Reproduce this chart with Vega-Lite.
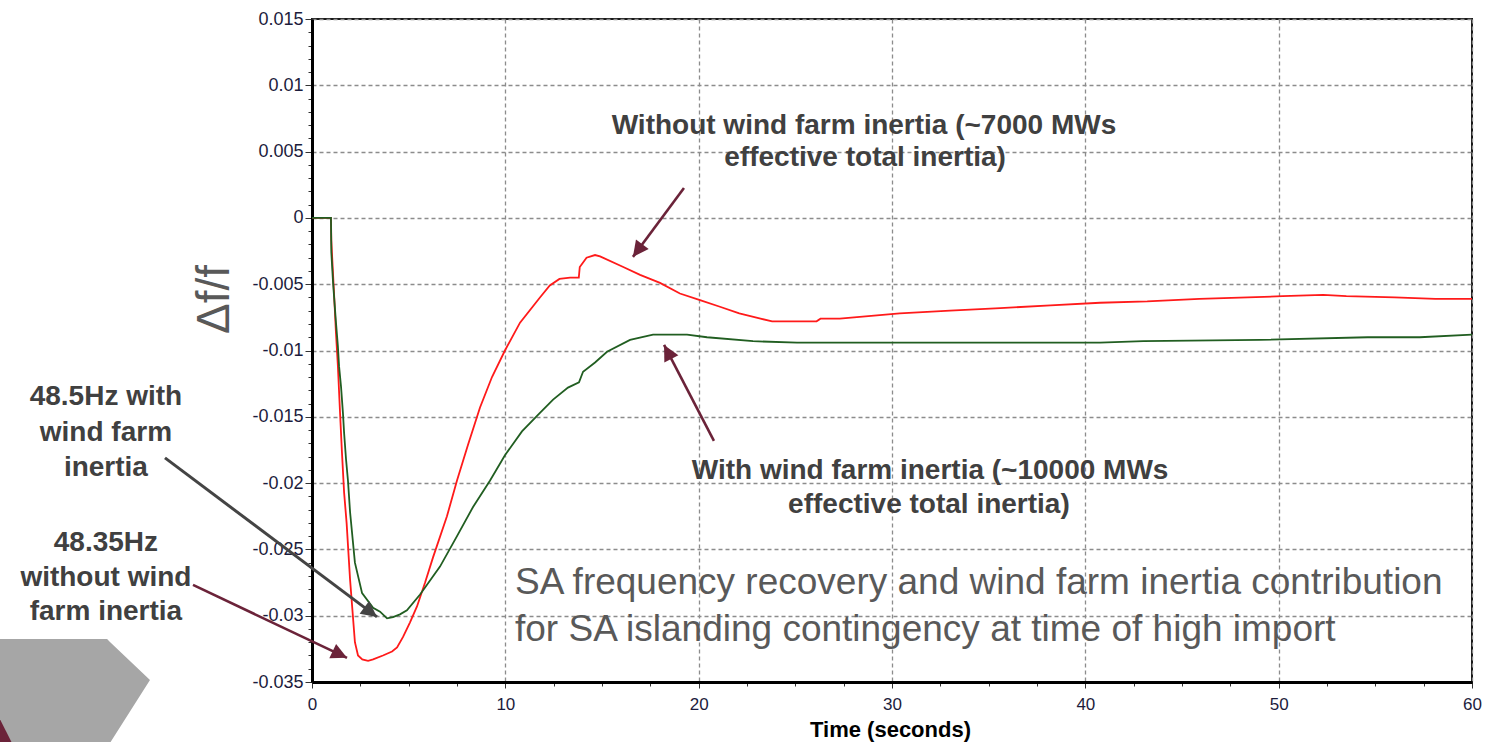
{
  "$schema": "https://vega.github.io/schema/vega-lite/v6.json",
  "width": 1160,
  "height": 663,
  "autosize": {"type": "none"},
  "padding": {"left": 312, "top": 19, "right": 14, "bottom": 60},
  "background": "white",
  "config": {
    "font": "Liberation Sans",
    "view": {"stroke": "#1a1a1a", "strokeWidth": 2}
  },
  "datasets": {
    "series": [
      {"s": "Without", "t": 0, "v": 0}, {"s": "Without", "t": 0.98, "v": 0}, {"s": "Without", "t": 1.0, "v": -0.0017}, {"s": "Without", "t": 1.03, "v": -0.0026}, {"s": "Without", "t": 1.08, "v": -0.004}, {"s": "Without", "t": 1.14, "v": -0.0057}, {"s": "Without", "t": 1.24, "v": -0.0087}, {"s": "Without", "t": 1.34, "v": -0.0112}, {"s": "Without", "t": 1.45, "v": -0.0147}, {"s": "Without", "t": 1.55, "v": -0.0177}, {"s": "Without", "t": 1.66, "v": -0.0207}, {"s": "Without", "t": 1.79, "v": -0.023}, {"s": "Without", "t": 1.97, "v": -0.0273}, {"s": "Without", "t": 2.22, "v": -0.032}, {"s": "Without", "t": 2.38, "v": -0.033}, {"s": "Without", "t": 2.6, "v": -0.0333}, {"s": "Without", "t": 2.9, "v": -0.0334}, {"s": "Without", "t": 3.16, "v": -0.0333}, {"s": "Without", "t": 3.67, "v": -0.033}, {"s": "Without", "t": 4.14, "v": -0.0327}, {"s": "Without", "t": 4.4, "v": -0.0324}, {"s": "Without", "t": 4.71, "v": -0.0316}, {"s": "Without", "t": 5.07, "v": -0.0305}, {"s": "Without", "t": 5.43, "v": -0.0293}, {"s": "Without", "t": 5.85, "v": -0.0275}, {"s": "Without", "t": 6.26, "v": -0.0256}, {"s": "Without", "t": 6.98, "v": -0.0225}, {"s": "Without", "t": 7.5, "v": -0.0198}, {"s": "Without", "t": 8.07, "v": -0.0171}, {"s": "Without", "t": 8.69, "v": -0.0143}, {"s": "Without", "t": 9.31, "v": -0.012}, {"s": "Without", "t": 9.98, "v": -0.01}, {"s": "Without", "t": 10.76, "v": -0.0079}, {"s": "Without", "t": 11.79, "v": -0.006}, {"s": "Without", "t": 12.3, "v": -0.0051}, {"s": "Without", "t": 12.8, "v": -0.0046}, {"s": "Without", "t": 13.35, "v": -0.0045}, {"s": "Without", "t": 13.8, "v": -0.0045}, {"s": "Without", "t": 13.85, "v": -0.0037}, {"s": "Without", "t": 14.2, "v": -0.003}, {"s": "Without", "t": 14.64, "v": -0.0028}, {"s": "Without", "t": 14.9, "v": -0.0029}, {"s": "Without", "t": 16.1, "v": -0.0037}, {"s": "Without", "t": 16.97, "v": -0.0043}, {"s": "Without", "t": 18.0, "v": -0.0049}, {"s": "Without", "t": 19.03, "v": -0.0057}, {"s": "Without", "t": 20.07, "v": -0.0062}, {"s": "Without", "t": 21.1, "v": -0.0067}, {"s": "Without", "t": 22.1, "v": -0.0072}, {"s": "Without", "t": 23.2, "v": -0.0076}, {"s": "Without", "t": 23.8, "v": -0.0078}, {"s": "Without", "t": 24.9, "v": -0.0078}, {"s": "Without", "t": 26.1, "v": -0.0078}, {"s": "Without", "t": 26.3, "v": -0.0076}, {"s": "Without", "t": 27.3, "v": -0.0076}, {"s": "Without", "t": 30.4, "v": -0.0072}, {"s": "Without", "t": 33.0, "v": -0.007}, {"s": "Without", "t": 35.6, "v": -0.0068}, {"s": "Without", "t": 38.2, "v": -0.0066}, {"s": "Without", "t": 40.76, "v": -0.0064}, {"s": "Without", "t": 43.2, "v": -0.0063}, {"s": "Without", "t": 45.9, "v": -0.0061}, {"s": "Without", "t": 48.4, "v": -0.006}, {"s": "Without", "t": 50.2, "v": -0.0059}, {"s": "Without", "t": 52.3, "v": -0.0058}, {"s": "Without", "t": 53.5, "v": -0.0059}, {"s": "Without", "t": 56.0, "v": -0.006}, {"s": "Without", "t": 58.1, "v": -0.0061}, {"s": "Without", "t": 60, "v": -0.0061},
      {"s": "With", "t": 0, "v": 0}, {"s": "With", "t": 0.98, "v": 0}, {"s": "With", "t": 1.0, "v": -0.0026}, {"s": "With", "t": 1.09, "v": -0.0049}, {"s": "With", "t": 1.24, "v": -0.0079}, {"s": "With", "t": 1.34, "v": -0.0097}, {"s": "With", "t": 1.4, "v": -0.0112}, {"s": "With", "t": 1.5, "v": -0.0127}, {"s": "With", "t": 1.6, "v": -0.0147}, {"s": "With", "t": 1.66, "v": -0.0162}, {"s": "With", "t": 1.76, "v": -0.0182}, {"s": "With", "t": 1.86, "v": -0.0198}, {"s": "With", "t": 1.97, "v": -0.0222}, {"s": "With", "t": 2.22, "v": -0.026}, {"s": "With", "t": 2.59, "v": -0.0283}, {"s": "With", "t": 3.16, "v": -0.0294}, {"s": "With", "t": 3.52, "v": -0.0297}, {"s": "With", "t": 3.88, "v": -0.0302}, {"s": "With", "t": 4.19, "v": -0.0301}, {"s": "With", "t": 4.55, "v": -0.0299}, {"s": "With", "t": 4.91, "v": -0.0296}, {"s": "With", "t": 5.59, "v": -0.0284}, {"s": "With", "t": 6.62, "v": -0.0263}, {"s": "With", "t": 7.5, "v": -0.024}, {"s": "With", "t": 8.33, "v": -0.0218}, {"s": "With", "t": 9.21, "v": -0.0198}, {"s": "With", "t": 9.98, "v": -0.0179}, {"s": "With", "t": 10.86, "v": -0.0161}, {"s": "With", "t": 11.79, "v": -0.0147}, {"s": "With", "t": 12.47, "v": -0.0137}, {"s": "With", "t": 13.24, "v": -0.0128}, {"s": "With", "t": 13.81, "v": -0.0124}, {"s": "With", "t": 14.02, "v": -0.0116}, {"s": "With", "t": 14.64, "v": -0.0109}, {"s": "With", "t": 15.26, "v": -0.0101}, {"s": "With", "t": 16.45, "v": -0.0092}, {"s": "With", "t": 17.64, "v": -0.0088}, {"s": "With", "t": 19.4, "v": -0.0088}, {"s": "With", "t": 20.43, "v": -0.009}, {"s": "With", "t": 22.81, "v": -0.0093}, {"s": "With", "t": 25.09, "v": -0.0094}, {"s": "With", "t": 30.4, "v": -0.0094}, {"s": "With", "t": 35.6, "v": -0.0094}, {"s": "With", "t": 40.76, "v": -0.0094}, {"s": "With", "t": 43.0, "v": -0.0093}, {"s": "With", "t": 49.0, "v": -0.0092}, {"s": "With", "t": 54.6, "v": -0.009}, {"s": "With", "t": 57.3, "v": -0.009}, {"s": "With", "t": 60, "v": -0.0088}
    ],
    "chevron": [
      {"t": -16.2, "v": -0.03175, "v2": -0.0396},
      {"t": -10.6, "v": -0.03175, "v2": -0.0396},
      {"t": -10.45, "v": -0.03198, "v2": -0.0396},
      {"t": -8.38, "v": -0.03484, "v2": -0.03484}
    ],
    "sliver": [
      {"t": -16.2, "v": -0.03763, "v2": -0.0396},
      {"t": -15.52, "v": -0.0396, "v2": -0.0396}
    ],
    "arrows": [
      {"id": "g", "t": 3.362, "v": -0.03009, "t2": -7.604, "v2": -0.0181},
      {"id": "m1", "t": 1.81, "v": -0.03318, "t2": -6.155, "v2": -0.02768},
      {"id": "m2", "t": 16.6, "v": -0.00294, "t2": 19.24, "v2": 0.00226},
      {"id": "m3", "t": 18.21, "v": -0.00958, "t2": 20.79, "v2": -0.01682}
    ],
    "notes": [
      {"t": 28.55, "v": 0.00694, "label": "Without wind farm inertia (~7000 MWs"},
      {"t": 28.61, "v": 0.00452, "label": "effective total inertia)"},
      {"t": 31.97, "v": -0.01908, "label": "With wind farm inertia (~10000 MWs"},
      {"t": 31.91, "v": -0.02164, "label": "effective total inertia)"},
      {"t": -10.66, "v": -0.0135, "label": "48.5Hz with"},
      {"t": -10.66, "v": -0.01621, "label": "wind farm"},
      {"t": -10.66, "v": -0.01885, "label": "inertia"},
      {"t": -10.66, "v": -0.02451, "label": "48.35Hz"},
      {"t": -10.66, "v": -0.02715, "label": "without wind"},
      {"t": -10.66, "v": -0.02971, "label": "farm inertia"}
    ],
    "caption": [
      {"t": 10.5, "v": -0.02752, "label": "SA frequency recovery and wind farm inertia contribution"},
      {"t": 10.5, "v": -0.03107, "label": "for SA islanding contingency at time of high import"}
    ]
  },
  "encoding": {
    "x": {
      "field": "t",
      "type": "quantitative",
      "scale": {"domain": [0, 60], "nice": false, "zero": false},
      "axis": {
        "values": [0, 2.5, 5, 7.5, 10, 12.5, 15, 17.5, 20, 22.5, 25, 27.5, 30, 32.5, 35, 37.5, 40, 42.5, 45, 47.5, 50, 52.5, 55, 57.5, 60],
        "labelExpr": "datum.value % 10 == 0 ? '' + datum.value : ''",
        "labelOverlap": false,
        "labelFlush": false,
        "labelFont": "Liberation Sans",
        "labelFontSize": 17,
        "labelColor": "#1c1c3c",
        "labelPadding": 8,
        "tickColor": "#333333",
        "tickWidth": 1,
        "tickSize": {"condition": {"test": "datum.value % 10 == 0", "value": 6}, "value": 4},
        "grid": true,
        "gridOpacity": {"condition": {"test": "datum.value % 10 == 0", "value": 1}, "value": 0},
        "gridColor": "#8c8c8c",
        "gridDash": [4, 3],
        "gridWidth": 1.3,
        "domainColor": "#000000",
        "domainWidth": 3,
        "title": "Time (seconds)",
        "titleFont": "Liberation Sans",
        "titleFontSize": 22,
        "titleFontWeight": "bold",
        "titleColor": "#000000",
        "titleX": 578,
        "titleY": 47,
        "titleBaseline": "middle",
        "titleAlign": "center"
      }
    },
    "y": {
      "field": "v",
      "type": "quantitative",
      "scale": {"domain": [-0.035, 0.015], "nice": false, "zero": false},
      "axis": {
        "values": [-0.035, -0.034, -0.033, -0.032, -0.031, -0.03, -0.029, -0.028, -0.027, -0.026, -0.025, -0.024, -0.023, -0.022, -0.021, -0.02, -0.019, -0.018, -0.017, -0.016, -0.015, -0.014, -0.013, -0.012, -0.011, -0.01, -0.009, -0.008, -0.007, -0.006, -0.005, -0.004, -0.003, -0.002, -0.001, 0, 0.001, 0.002, 0.003, 0.004, 0.005, 0.006, 0.007, 0.008, 0.009, 0.01, 0.011, 0.012, 0.013, 0.014, 0.015],
        "labelExpr": "abs(datum.value * 200 - round(datum.value * 200)) < 0.000001 ? '' + datum.value : ''",
        "labelOverlap": false,
        "labelFlush": false,
        "labelFont": "Liberation Sans",
        "labelFontSize": 18,
        "labelColor": "#1c1c3c",
        "labelPadding": 2,
        "tickColor": "#333333",
        "tickWidth": 1,
        "tickSize": {"condition": {"test": "abs(datum.value * 200 - round(datum.value * 200)) < 0.000001", "value": 7}, "value": 4},
        "grid": true,
        "gridOpacity": {"condition": {"test": "abs(datum.value * 200 - round(datum.value * 200)) < 0.000001", "value": 1}, "value": 0},
        "gridColor": "#8c8c8c",
        "gridDash": [4, 3],
        "gridWidth": 1.3,
        "domainColor": "#000000",
        "domainWidth": 3,
        "title": "Δf/f",
        "titleFont": "Liberation Sans",
        "titleFontSize": 46,
        "titleFontWeight": "normal",
        "titleColor": "#595959",
        "titleX": -98,
        "titleY": 280,
        "titleAngle": 270,
        "titleBaseline": "middle",
        "titleAlign": "center"
      }
    }
  },
  "layer": [
    {
      "data": {"name": "chevron"},
      "mark": {"type": "area", "color": "#a6a6a6", "opacity": 1, "clip": false},
      "encoding": {"y2": {"field": "v2"}}
    },
    {
      "data": {"name": "sliver"},
      "mark": {"type": "area", "color": "#6b2339", "opacity": 1, "clip": false},
      "encoding": {"y2": {"field": "v2"}}
    },
    {
      "data": {"name": "series"},
      "mark": {"type": "line", "strokeWidth": 1.8},
      "encoding": {
        "color": {"field": "s", "type": "nominal", "scale": {"domain": ["Without", "With"], "range": ["#ff1a1a", "#215e21"]}, "legend": null}
      }
    },
    {
      "data": {"name": "arrows"},
      "transform": [{"filter": "datum.id == 'g'"}],
      "mark": {"type": "rule", "color": "#444444", "strokeWidth": 3},
      "encoding": {"x2": {"field": "t2"}, "y2": {"field": "v2"}}
    },
    {
      "data": {"name": "arrows"},
      "transform": [{"filter": "datum.id != 'g'"}],
      "mark": {"type": "rule", "color": "#6b2339", "strokeWidth": 2.6},
      "encoding": {"x2": {"field": "t2"}, "y2": {"field": "v2"}}
    },
    {
      "data": {"name": "arrows"},
      "transform": [{"filter": "datum.id == 'g'"}],
      "mark": {"type": "point", "shape": "M0,0L0.5,1L-0.5,1Z", "filled": true, "opacity": 1, "size": 1000, "angle": 126.9, "color": "#444444"}
    },
    {
      "data": {"name": "arrows"},
      "transform": [{"filter": "datum.id == 'm1'"}],
      "mark": {"type": "point", "shape": "M0,0L0.5,1L-0.5,1Z", "filled": true, "opacity": 1, "size": 1000, "angle": 115.4, "color": "#6b2339"}
    },
    {
      "data": {"name": "arrows"},
      "transform": [{"filter": "datum.id == 'm2'"}],
      "mark": {"type": "point", "shape": "M0,0L0.5,1L-0.5,1Z", "filled": true, "opacity": 1, "size": 1000, "angle": 216.5, "color": "#6b2339"}
    },
    {
      "data": {"name": "arrows"},
      "transform": [{"filter": "datum.id == 'm3'"}],
      "mark": {"type": "point", "shape": "M0,0L0.5,1L-0.5,1Z", "filled": true, "opacity": 1, "size": 1000, "angle": 332.5, "color": "#6b2339"}
    },
    {
      "data": {"name": "notes"},
      "mark": {"type": "text", "font": "Liberation Sans", "fontSize": 28, "fontWeight": "bold", "color": "#404040", "align": "center", "baseline": "middle"},
      "encoding": {"text": {"field": "label"}}
    },
    {
      "data": {"name": "caption"},
      "mark": {"type": "text", "font": "Liberation Sans", "fontSize": 37, "fontWeight": "normal", "color": "#595959", "align": "left", "baseline": "middle"},
      "encoding": {"text": {"field": "label"}}
    }
  ]
}
